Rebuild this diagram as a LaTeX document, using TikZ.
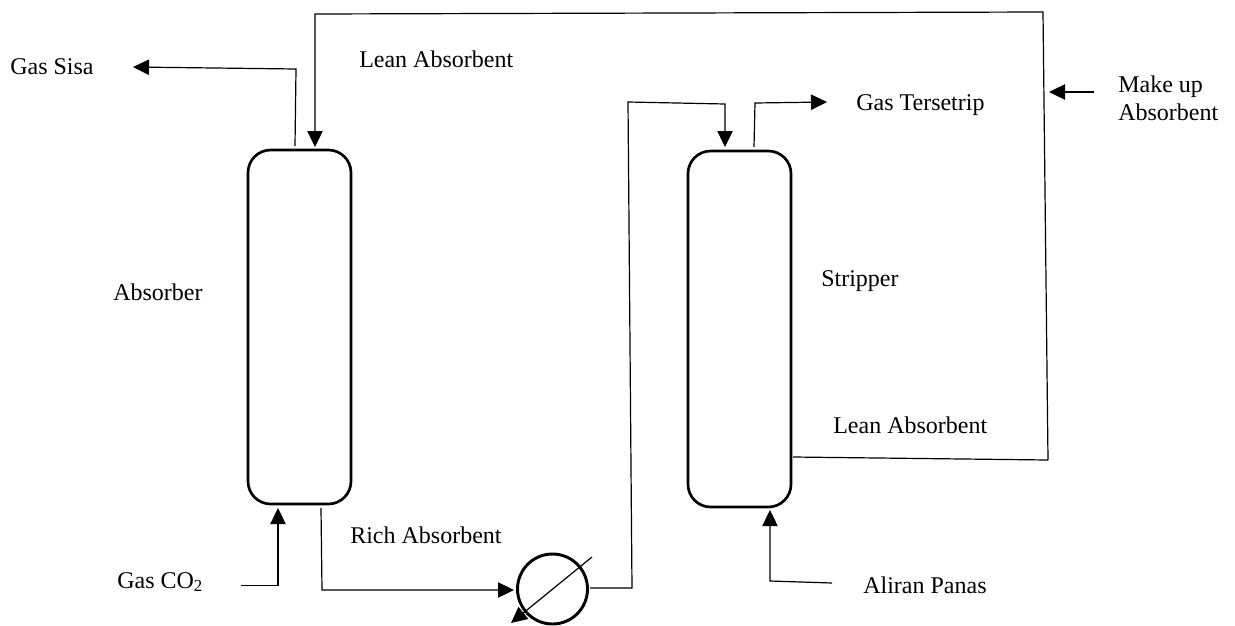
\documentclass[tikz,border=0pt]{standalone}
\usepackage{fontspec}
\setmainfont{Liberation Serif}
\usetikzlibrary{arrows.meta}
\tikzset{
    vessel/.style={draw, line width=2pt, rounded corners=17pt, minimum width=103*0.75pt, inner sep=0pt},
    cooler/.style={circle, draw, line width=2.2pt, minimum size=70*0.75pt, inner sep=0pt},
    pipe/.style={line width=0.9pt},
    feed/.style={pipe, -{Triangle[length=12pt, width=11.5pt]}},
    label/.style={anchor=west, inner sep=0pt, font=\fontsize{18}{21}\selectfont, align=left}
}

\begin{document}
\begin{tikzpicture}[x=0.75pt, y=-0.75pt]
    \useasboundingbox (0,0) rectangle (1235,625);
    \node[vessel, minimum height=354*0.75pt] (absorber) at (299.5,327) {};
    \node[vessel, minimum height=356*0.75pt] (stripper) at (739.5,329) {};
    \node[cooler] (hx) at (552.5,589) {};

    \coordinate (sisa_start) at (295,146);
    \coordinate (sisa_bend) at (296,69);
    \coordinate (sisa_end) at (133,67);
    \coordinate (lean_out) at (793,457);
    \coordinate (lean_corner) at (1048,460);
    \coordinate (lean_top) at (1043,12);
    \coordinate (lean_left) at (315,14);
    \coordinate (lean_in) at (315,147);
    \coordinate (makeup_start) at (1094,92);
    \coordinate (makeup_end) at (1049,92);
    \coordinate (rich_start) at (321,508);
    \coordinate (rich_bend) at (322,590);
    \coordinate (rich_end) at (514,590);
    \coordinate (hx_out) at (590,588);
    \coordinate (hx_bend) at (632,588);
    \coordinate (rich_top) at (628,102);
    \coordinate (rich_right) at (725,104);
    \coordinate (rich_in) at (725,147);
    \coordinate (strip_start) at (754,147);
    \coordinate (strip_bend) at (755,103);
    \coordinate (strip_end) at (827,102);
    \coordinate (co2_start) at (241,585.5);
    \coordinate (co2_bend) at (278,585.5);
    \coordinate (co2_end) at (278,508);
    \coordinate (heat_start) at (832,583);
    \coordinate (heat_bend) at (770,581);
    \coordinate (heat_end) at (770,510);
    \coordinate (hx_a) at (592,557);
    \coordinate (hx_b) at (511,623);

    \draw[feed] (sisa_start) -- (sisa_bend) -- (sisa_end);
    \draw[pipe] (lean_out) -- (lean_corner);
    \draw[feed] (lean_corner) -- (lean_top) -- (lean_left) -- (lean_in);
    \draw[feed] (makeup_start) -- (makeup_end);
    \draw[feed] (rich_start) -- (rich_bend) -- (rich_end);
    \draw[feed] (hx_out) -- (hx_bend) -- (rich_top) -- (rich_right) -- (rich_in);
    \draw[feed] (strip_start) -- (strip_bend) -- (strip_end);
    \draw[feed] (co2_start) -- (co2_bend) -- (co2_end);
    \draw[feed] (heat_start) -- (heat_bend) -- (heat_end);
    \draw[feed] (hx_a) -- (hx_b);

    \node[label] (l_sisa) at (10,67) {Gas Sisa};
    \node[label] (l_lean_top) at (359,59) {Lean Absorbent};
    \node[label] (l_strip) at (856,105) {Gas Tersetrip};
    \node[label] (l_makeup) at (1118,98) {Make up\\Absorbent};
    \node[label] (l_absorber) at (113,292) {Absorber};
    \node[label] (l_stripper) at (821,281) {Stripper};
    \node[label] (l_lean_bot) at (833,425) {Lean Absorbent};
    \node[label] (l_rich) at (350,535) {Rich Absorbent};
    \node[label] (l_co2) at (117,582) {Gas CO\textsubscript{2}};
    \node[label] (l_heat) at (863,585) {Aliran Panas};
\end{tikzpicture}
\end{document}
